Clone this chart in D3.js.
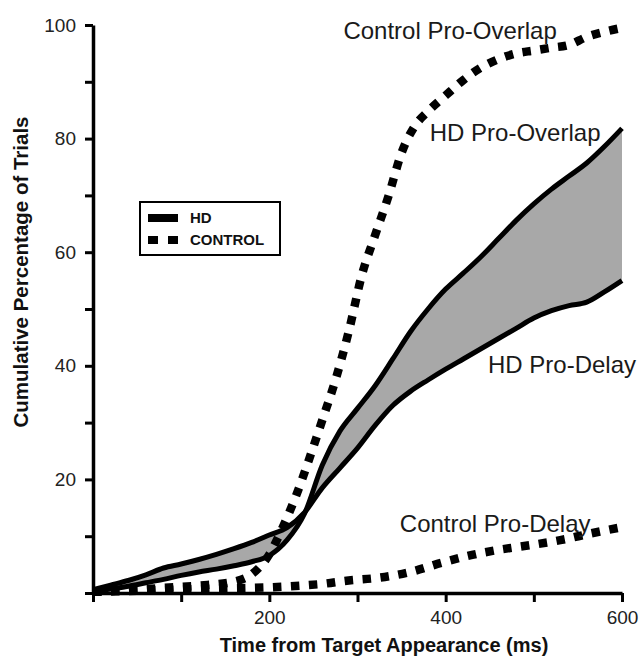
<!DOCTYPE html>
<html>
<head>
<meta charset="utf-8">
<script src="https://cdn.jsdelivr.net/npm/d3@7"></script>
<style>
  body { margin: 0; background: #fff; }
  svg text { font-family: "Liberation Sans", Arial, Helvetica, sans-serif; }
</style>
</head>
<body>
<div id="plot"></div>
<script>
// time grid shared by the two HD curves (ms)
const hdTimes = [0, 20, 40, 60, 80, 100, 120, 140, 160, 180, 200, 220, 240, 260, 280, 300,
  320, 340, 360, 380, 400, 420, 440, 460, 480, 500, 520, 540, 560, 580, 600];
const hdProOverlap = [0.4, 0.7, 1.2, 1.8, 2.4, 3.1, 3.7, 4.2, 4.8, 5.5, 6.6, 9.3, 14.0, 22.5, 28.5, 32.5,
  36.5, 41.2, 46.0, 50.0, 53.5, 56.3, 59.2, 62.4, 65.6, 68.5, 71.1, 73.4, 75.7, 78.6, 81.8];
const hdProDelay = [0.6, 1.4, 2.2, 3.2, 4.4, 5.1, 5.9, 6.8, 7.8, 8.9, 10.2, 11.5, 14.2, 18.5, 22.0, 25.5,
  29.5, 33.0, 35.5, 37.5, 39.4, 41.2, 43.0, 44.8, 46.6, 48.4, 49.7, 50.6, 51.2, 53.0, 55.0];

const ctlOverlapTimes = [0, 40, 80, 120, 160, 180, 200, 215, 230, 245, 260, 275, 290, 305, 320, 335,
  350, 365, 380, 400, 420, 440, 460, 480, 500, 520, 540, 560, 580, 600];
const ctlProOverlap = [0.2, 0.5, 0.9, 1.3, 2.0, 3.3, 6.8, 11.5, 17.0, 23.5, 30.4, 37.5, 46.0, 56.0, 63.0, 69.8,
  77.5, 82.2, 84.8, 87.6, 90.3, 92.5, 94.0, 95.0, 95.5, 96.0, 96.5, 97.9, 98.8, 99.5];

const ctlDelayTimes = [0, 50, 100, 150, 200, 235, 260, 290, 325, 360, 395, 430, 460, 495, 530, 565, 600];
const ctlProDelay = [0.2, 0.4, 0.6, 0.8, 1.0, 1.3, 1.6, 2.2, 2.7, 3.7, 5.3, 6.7, 7.6, 8.4, 9.3, 10.5, 11.6];

const yTicks = [0, 10, 20, 30, 40, 50, 60, 70, 80, 90, 100];
const yLabels = ["", "", "20", "", "40", "", "60", "", "80", "", "100"];
const xTicks = [0, 100, 200, 300, 400, 500, 600];
const xLabels = ["", "", "200", "", "400", "", "600"];

const annotations = [
  { text: "Control Pro-Overlap", t: 284, v: 97.5 },
  { text: "HD Pro-Overlap", t: 382, v: 79.6 },
  { text: "HD Pro-Delay", t: 448, v: 38.8 },
  { text: "Control Pro-Delay", t: 348, v: 10.8 }
];
const legendItems = ["HD", "CONTROL"];

const width = 643, height = 657;
const margin = { top: 25, right: 21, bottom: 64, left: 93 };

const svg = d3.select("#plot").append("svg")
  .attr("width", width)
  .attr("height", height);

const x = d3.scaleLinear().domain([0, 600]).range([margin.left, width - margin.right]);
const y = d3.scaleLinear().domain([0, 100]).range([height - margin.bottom, margin.top]);

// shaded band between the HD curves
const hdRows = hdTimes.map((t, i) => ({ t, a: hdProOverlap[i], b: hdProDelay[i] }));
const band = d3.area()
  .x(d => x(d.t))
  .y0(d => y(d.a))
  .y1(d => y(d.b))
  .curve(d3.curveMonotoneX);

svg.append("path")
  .datum(hdRows)
  .attr("d", band)
  .attr("fill", "#a8a8a8");

const line = d3.line()
  .x(d => x(d[0]))
  .y(d => y(d[1]))
  .curve(d3.curveMonotoneX);

const series = [
  { pts: d3.zip(hdTimes, hdProOverlap), dotted: false },
  { pts: d3.zip(hdTimes, hdProDelay), dotted: false },
  { pts: d3.zip(ctlOverlapTimes, ctlProOverlap), dotted: true },
  { pts: d3.zip(ctlDelayTimes, ctlProDelay), dotted: true }
];

svg.selectAll(".series")
  .data(series)
  .join("path")
  .attr("class", "series")
  .attr("fill", "none")
  .attr("stroke", "#000")
  .attr("stroke-width", d => d.dotted ? 8.5 : 5)
  .attr("stroke-dasharray", d => d.dotted ? "8.5,9.5" : null)
  .attr("stroke-linejoin", "round")
  .attr("d", d => line(d.pts));

// axes
const yAxis = d3.axisLeft(y)
  .tickValues(yTicks)
  .tickFormat((d, i) => yLabels[i])
  .tickSize(8)
  .tickSizeOuter(0)
  .tickPadding(9);

const xAxis = d3.axisBottom(x)
  .tickValues(xTicks)
  .tickFormat((d, i) => xLabels[i])
  .tickSize(9)
  .tickSizeOuter(0)
  .tickPadding(9);

const yG = svg.append("g")
  .attr("transform", `translate(${margin.left},0)`)
  .call(yAxis);

const xG = svg.append("g")
  .attr("transform", `translate(0,${height - margin.bottom})`)
  .call(xAxis);

[yG, xG].forEach(g => {
  g.select(".domain").attr("stroke-width", 3.5);
  g.selectAll(".tick line").attr("stroke-width", 3);
  g.selectAll(".tick text")
    .attr("font-size", 19)
    .attr("fill", "#222");
});

// axis titles
svg.append("text")
  .attr("x", 384)
  .attr("y", 652)
  .attr("text-anchor", "middle")
  .attr("font-size", 20)
  .attr("font-weight", "bold")
  .attr("fill", "#111")
  .text("Time from Target Appearance (ms)");

svg.append("text")
  .attr("transform", "translate(28,272) rotate(-90)")
  .attr("text-anchor", "middle")
  .attr("font-size", 20.5)
  .attr("font-weight", "bold")
  .attr("fill", "#111")
  .text("Cumulative Percentage of Trials");

// curve labels
svg.selectAll(".note")
  .data(annotations)
  .join("text")
  .attr("class", "note")
  .attr("x", d => x(d.t))
  .attr("y", d => y(d.v))
  .attr("font-size", 24)
  .attr("fill", "#1a1a1a")
  .text(d => d.text);

// legend
const lg = svg.append("g").attr("transform", "translate(140,202)");
lg.append("rect")
  .attr("width", 140)
  .attr("height", 53)
  .attr("fill", "#fff")
  .attr("stroke", "#000")
  .attr("stroke-width", 2);

lg.selectAll(".lg-line")
  .data(legendItems)
  .join("line")
  .attr("class", "lg-line")
  .attr("x1", 8)
  .attr("x2", 38)
  .attr("y1", (d, i) => 16 + i * 22)
  .attr("y2", (d, i) => 16 + i * 22)
  .attr("stroke", "#000")
  .attr("stroke-width", 8)
  .attr("stroke-dasharray", (d, i) => i ? "10,10" : null);

lg.selectAll(".lg-text")
  .data(legendItems)
  .join("text")
  .attr("class", "lg-text")
  .attr("x", 50)
  .attr("y", (d, i) => 16 + i * 22)
  .attr("dy", "0.36em")
  .attr("font-size", 15)
  .attr("font-weight", "bold")
  .attr("fill", "#111")
  .text(d => d);
</script>
</body>
</html>
